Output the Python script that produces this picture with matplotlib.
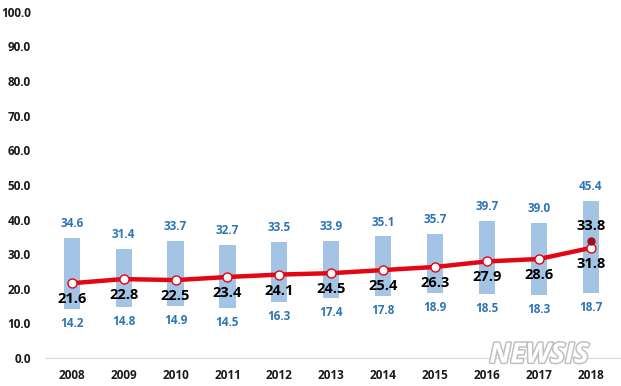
import matplotlib.pyplot as plt
import matplotlib.patheffects as pe

years = [2008, 2009, 2010, 2011, 2012, 2013, 2014, 2015, 2016, 2017, 2018]
high = [34.6, 31.4, 33.7, 32.7, 33.5, 33.9, 35.1, 35.7, 39.7, 39.0, 45.4]
low = [14.2, 14.8, 14.9, 14.5, 16.3, 17.4, 17.8, 18.9, 18.5, 18.3, 18.7]
avg = [21.6, 22.8, 22.5, 23.4, 24.1, 24.5, 25.4, 26.3, 27.9, 28.6, 31.8]
extra_val = 33.8  # separate point shown for 2018

plt.rcParams['font.family'] = ['Open Sans', 'DejaVu Sans']

fig = plt.figure(figsize=(6.21, 3.86), dpi=100)
ax = fig.add_axes([0.072, 0.0725, 0.928, 0.897])

x = list(range(len(years)))
ax.bar(x, [h - l for h, l in zip(high, low)], bottom=low, width=0.31,
       color='#a4c4e6', zorder=1)
ax.plot(x, avg, color='#e30613', lw=3.2, marker='o', markersize=6.5,
        markerfacecolor='white', markeredgecolor='#e30613', markeredgewidth=1.0, zorder=3)
ax.plot(x[-1], extra_val, 'o', color='#a0101c', markersize=5, zorder=4)

blue = '#2e75b6'
for i in x:
    ax.text(i, high[i] + 2.3, f'{high[i]:.1f}', ha='center', va='bottom',
            color=blue, fontsize=8.5, fontweight='bold')
    ax.text(i, low[i] - 2.3, f'{low[i]:.1f}', ha='center', va='top',
            color=blue, fontsize=8.5, fontweight='bold')
    ax.text(i, avg[i] - 2.6, f'{avg[i]:.1f}', ha='center', va='top',
            color='black', fontsize=10.5, fontweight='bold', zorder=5)
ax.text(x[-1], extra_val + 2.3, f'{extra_val:.1f}', ha='center', va='bottom',
        color='black', fontsize=10.5, fontweight='bold', zorder=5)

ax.set_ylim(0, 100)
ax.set_xlim(-0.52, 10.58)
ax.set_yticks(range(0, 101, 10))
ax.set_yticklabels([f'{v:.1f}' for v in range(0, 101, 10)])
ax.set_xticks(x)
ax.set_xticklabels([str(y) for y in years])
ax.tick_params(length=0, labelsize=8.5, colors='#1a1a1a', pad=8)
for lab in ax.get_xticklabels() + ax.get_yticklabels():
    lab.set_fontweight('bold')
ax.tick_params(axis='y', pad=10)
for s in ['top', 'right', 'left']:
    ax.spines[s].set_visible(False)
ax.spines['bottom'].set_color('#d9d9d9')

# watermark
fig.text(0.868, 0.08, 'NEWSIS', ha='center', va='center', fontsize=20,
         fontweight='bold', style='italic', color='white',
         path_effects=[pe.withStroke(linewidth=2.2, foreground='#c0c0c0')])

fig.savefig('out.png', dpi=100)
